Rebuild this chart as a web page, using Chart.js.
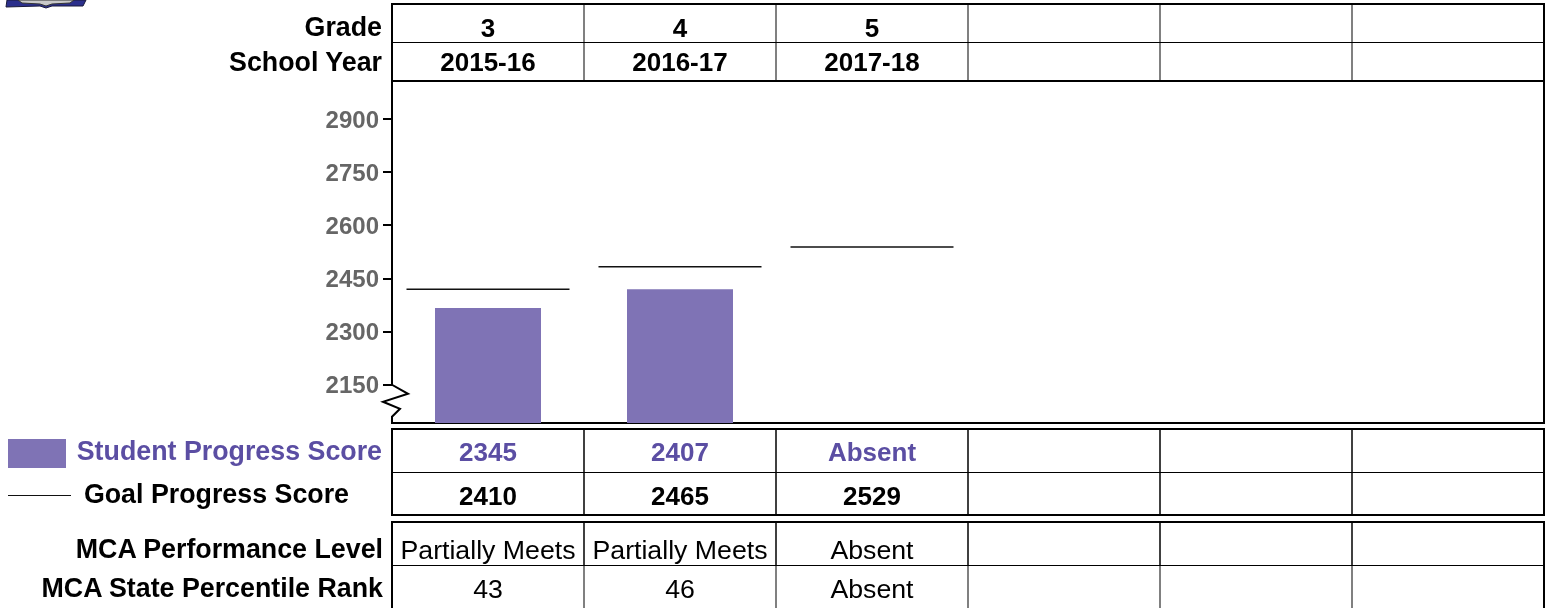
<!DOCTYPE html>
<html>
<head>
<meta charset="utf-8">
<title>Student Progress</title>
<script src="https://cdn.jsdelivr.net/npm/chart.js@4"></script>
<style>
	html, body { margin: 0; padding: 0; background: #fff; overflow: hidden; }
	body { width: 1546px; height: 608px; position: relative; font-family: "Liberation Sans", Arial, sans-serif; color: #000; }
	#chart { position: absolute; left: 0; top: 0; }
	.band { position: absolute; left: 391px; width: 1154px; border: 2px solid #000; box-sizing: border-box; }
	.row { display: flex; box-sizing: border-box; }
	.row.ruled { border-bottom: 1px solid #000; }
	.cell { width: 192px; flex: none; box-sizing: border-box; border-right: 2px solid #808080; text-align: center; font-size: 26px; white-space: nowrap; }
	.cell:last-child { border-right: 0; flex: 1; }
	.row.dark .cell { border-right-color: #404040; }
	.bold .cell { font-weight: bold; }
	.plain .cell { font-size: 26.7px; }
	.purple .cell { color: #5b4ea3; }
	.label { position: absolute; font-size: 26.8px; font-weight: bold; line-height: 30px; white-space: nowrap; text-align: right; }
	#swatch { position: absolute; left: 8px; top: 439px; width: 58px; height: 29px; background: #7f73b5; }
	#goalKey { position: absolute; left: 8px; top: 495px; width: 63px; height: 1px; background: #111; }
	#logo { position: absolute; left: 0; top: 0; }
</style>
</head>
<body>
<svg id="logo" width="90" height="9">
	<polygon points="7,0 86,0 83,6 52,6 46,8 40,6 6,7" fill="#2b2f8c" stroke="#1a1a3a" stroke-width="1"/>
	<polygon points="18,0 74,0 70,3 52,4 46,6 40,4 22,3" fill="#c9c9c9" stroke="#333" stroke-width="1"/>
</svg>
<canvas id="chart" width="1546" height="608"></canvas>
<div id="swatch"></div>
<div id="goalKey"></div>
<script>
const categories = ['3', '4', '5', '', '', ''];
const tickValues = [2150, 2300, 2450, 2600, 2750, 2900];
// bar and line heights as they sit on the axis in the picture
const studentBars = [2367, 2420, null, null, null, null];
const goalLines = [2420, 2483, 2539, null, null, null];

const gradeText = ['3', '4', '5', '', '', ''];
const yearText = ['2015-16', '2016-17', '2017-18', '', '', ''];
const studentText = ['2345', '2407', 'Absent', '', '', ''];
const goalText = ['2410', '2465', '2529', '', '', ''];
const levelText = ['Partially Meets', 'Partially Meets', 'Absent', '', '', ''];
const rankText = ['43', '46', 'Absent', '', '', ''];

const BAR_COLOR = '#7f73b5';

function addBand(top, height, rows) {
	const band = document.createElement('div');
	band.className = 'band';
	band.style.top = top + 'px';
	band.style.height = height + 'px';
	rows.forEach((r) => {
		const row = document.createElement('div');
		row.className = 'row ' + r.cls;
		row.style.height = r.height + 'px';
		r.values.forEach((v) => {
			const cell = document.createElement('div');
			cell.className = 'cell';
			cell.textContent = v;
			cell.style.lineHeight = r.line + 'px';
			row.appendChild(cell);
		});
		band.appendChild(row);
	});
	document.body.appendChild(band);
}

function addLabel(text, right, middle, color) {
	const el = document.createElement('div');
	el.className = 'label';
	el.textContent = text;
	el.style.right = (1546 - right) + 'px';
	el.style.top = (middle - 15) + 'px';
	if (color) {
		el.style.color = color;
	}
	document.body.appendChild(el);
}

addBand(3, 79, [
	{ cls: 'ruled bold', height: 38, line: 46, values: gradeText },
	{ cls: 'bold', height: 37, line: 38, values: yearText }
]);
addBand(428, 88, [
	{ cls: 'ruled dark bold purple', height: 43, line: 45, values: studentText },
	{ cls: 'dark bold', height: 41, line: 47, values: goalText }
]);
addBand(521, 92, [
	{ cls: 'ruled dark plain', height: 43, line: 54, values: levelText },
	{ cls: 'plain', height: 47, line: 47, values: rankText }
]);

addLabel('Grade', 382, 27);
addLabel('School Year', 382, 62);
addLabel('Student Progress Score', 382, 451, '#5b4ea3');
addLabel('Goal Progress Score', 349, 494);
addLabel('MCA Performance Level', 383, 549);
addLabel('MCA State Percentile Rank', 383, 588);

// left axis with its break, right edge of the plot
const axisFrame = {
	id: 'axisFrame',
	afterDatasetsDraw(chart) {
		const { ctx, chartArea, scales } = chart;
		const tickY = scales.y.getPixelForValue(tickValues[0]);
		const left = chartArea.left;

		ctx.save();
		ctx.strokeStyle = '#000';
		ctx.lineWidth = 2;
		ctx.beginPath();
		ctx.moveTo(left, chartArea.top);
		ctx.lineTo(left, tickY);
		ctx.lineTo(left + 16, tickY + 9);
		ctx.lineTo(left - 9, tickY + 17);
		ctx.lineTo(left + 8, tickY + 24);
		ctx.lineTo(left, tickY + 32);
		ctx.lineTo(left, chartArea.bottom);
		ctx.moveTo(chartArea.right, chartArea.top);
		ctx.lineTo(chartArea.right, chartArea.bottom);
		ctx.stroke();
		ctx.restore();
	}
};

new Chart(document.getElementById('chart').getContext('2d'), {
	data: {
		labels: categories,
		datasets: [
			{
				type: 'bar',
				label: 'Student Progress Score',
				data: studentBars,
				backgroundColor: BAR_COLOR,
				barPercentage: 1,
				categoryPercentage: 106 / 192,
				order: 2
			},
			{
				type: 'line',
				label: 'Goal Progress Score',
				data: goalLines,
				showLine: false,
				pointStyle: 'line',
				pointRadius: 81.5,
				pointBorderColor: '#111',
				pointBorderWidth: 1.5,
				order: 1
			}
		]
	},
	plugins: [axisFrame],
	options: {
		responsive: false,
		animation: false,
		layout: {
			autoPadding: false,
			padding: { top: 81, right: 2, bottom: 185, left: 326 }
		},
		plugins: {
			legend: { display: false },
			tooltip: { enabled: false }
		},
		scales: {
			x: {
				ticks: { display: false },
				grid: { display: false, drawTicks: false },
				border: { display: true, color: '#000', width: 2 }
			},
			y: {
				min: 2042,
				max: 3008,
				afterFit(scale) {
					scale.width = 66;
				},
				afterBuildTicks(scale) {
					scale.ticks = tickValues.map((v) => ({ value: v }));
				},
				grid: { drawOnChartArea: false, color: '#000', lineWidth: 2, tickLength: 9 },
				border: { display: false },
				ticks: {
					autoSkip: false,
					padding: 4,
					color: '#666',
					font: { family: '"Liberation Sans", Arial, sans-serif', size: 24, weight: 'bold', lineHeight: '3.5px' },
					// empty first line nudges the number just below its tick
					callback: (v) => ['', String(v)]
				}
			}
		}
	}
});
</script>
</body>
</html>
